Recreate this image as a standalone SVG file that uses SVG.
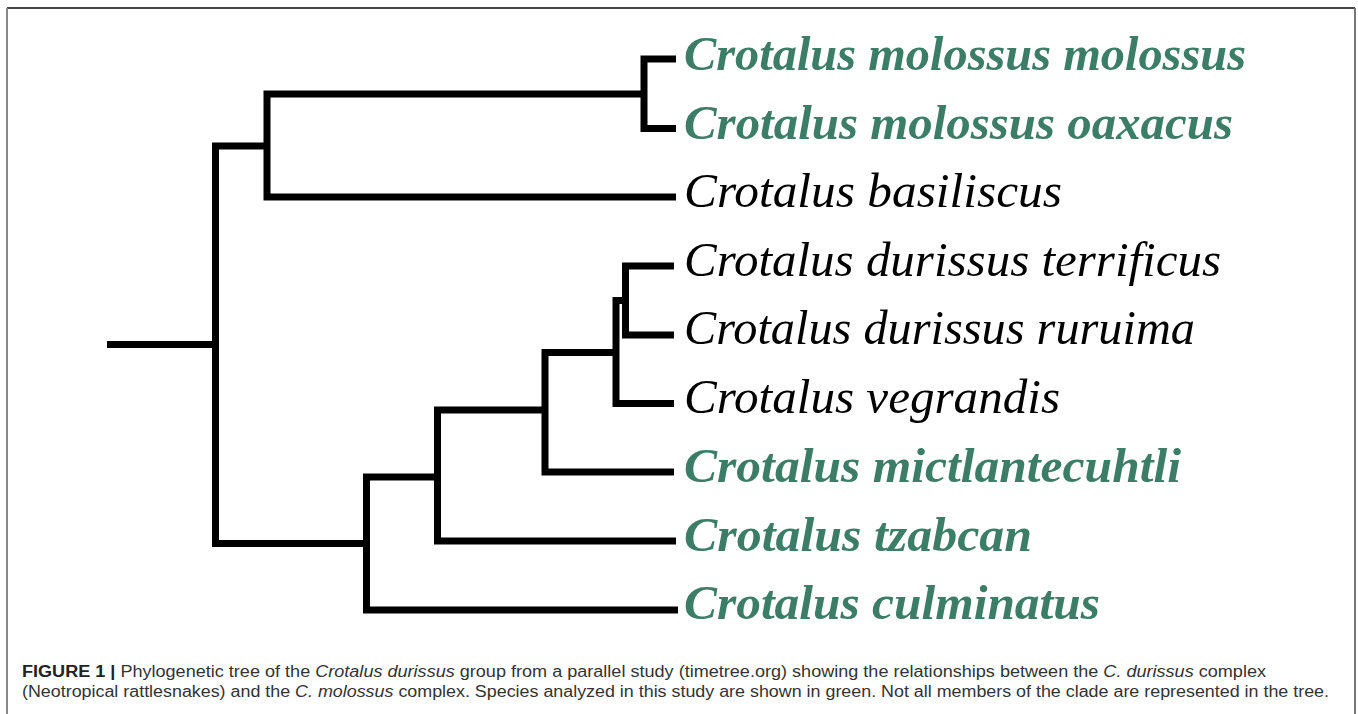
<svg xmlns="http://www.w3.org/2000/svg" width="1358" height="714" viewBox="0 0 1358 714">
  <style>
    .br { fill: none; stroke: #000; stroke-width: 7; stroke-linejoin: miter; stroke-linecap: butt; }
    .sp { font-family: "Liberation Serif", "Times New Roman", serif; font-size: 48.5px; font-style: italic; }
    .g { fill: #3c7d67; font-weight: bold; }
    .k { fill: #000; font-weight: normal; }
    .cap { font-family: "Liberation Sans", Arial, sans-serif; font-size: 16px; fill: #333; }
  </style>
  <rect x="0" y="0" width="1358" height="714" fill="#fff"/>
  <g id="frame">
    <line x1="7" y1="8" x2="1355" y2="8" stroke="#444" stroke-width="2"/>
    <line x1="7" y1="8" x2="7" y2="714" stroke="#888" stroke-width="2"/>
    <line x1="1355" y1="8" x2="1355" y2="714" stroke="#777" stroke-width="2"/>
  </g>
  <g id="connectors">
    <path class="br" d="M107,344.5 H215.5"/>
    <path class="br" d="M267,146 H215.5 V543.5 H366.5"/>
    <path class="br" d="M644,94 H267 V197 H676"/>
    <path class="br" d="M676,59 H644 V128.5 H676"/>
    <path class="br" d="M674,266 H625.5 V335 H674"/>
    <path class="br" d="M625.5,300.5 H616 V403.5 H674"/>
    <path class="br" d="M616,352.5 H545 V472 H674"/>
    <path class="br" d="M545,410 H437.5 V541 H676"/>
    <path class="br" d="M437.5,477 H366.5 V610 H678"/>
  </g>
  <g id="leaf-molossus-molossus"><text class="sp g" x="684" y="69.5" textLength="562" lengthAdjust="spacingAndGlyphs">Crotalus molossus molossus</text></g>
  <g id="leaf-molossus-oaxacus"><text class="sp g" x="684" y="138.5" textLength="549" lengthAdjust="spacingAndGlyphs">Crotalus molossus oaxacus</text></g>
  <g id="leaf-basiliscus"><text class="sp k" x="684" y="206.5" textLength="378" lengthAdjust="spacingAndGlyphs">Crotalus basiliscus</text></g>
  <g id="leaf-durissus-terrificus"><text class="sp k" x="684" y="275.5" textLength="537" lengthAdjust="spacingAndGlyphs">Crotalus durissus terrificus</text></g>
  <g id="leaf-durissus-ruruima"><text class="sp k" x="684" y="344" textLength="511" lengthAdjust="spacingAndGlyphs">Crotalus durissus ruruima</text></g>
  <g id="leaf-vegrandis"><text class="sp k" x="684" y="413" textLength="376" lengthAdjust="spacingAndGlyphs">Crotalus vegrandis</text></g>
  <g id="leaf-mictlantecuhtli"><text class="sp g" x="684" y="481.5" textLength="497" lengthAdjust="spacingAndGlyphs">Crotalus mictlantecuhtli</text></g>
  <g id="leaf-tzabcan"><text class="sp g" x="684" y="550.5" textLength="348" lengthAdjust="spacingAndGlyphs">Crotalus tzabcan</text></g>
  <g id="leaf-culminatus"><text class="sp g" x="684" y="619" textLength="416" lengthAdjust="spacingAndGlyphs">Crotalus culminatus</text></g>
  <g id="caption">
    <text class="cap" x="22" y="677" textLength="1244" lengthAdjust="spacingAndGlyphs"><tspan font-weight="bold" fill="#222">FIGURE 1 |</tspan> Phylogenetic tree of the <tspan font-style="italic">Crotalus durissus</tspan> group from a parallel study (timetree.org) showing the relationships between the <tspan font-style="italic">C. durissus</tspan> complex</text>
    <text class="cap" x="22" y="697" textLength="1307" lengthAdjust="spacingAndGlyphs">(Neotropical rattlesnakes) and the <tspan font-style="italic">C. molossus</tspan> complex. Species analyzed in this study are shown in green. Not all members of the clade are represented in the tree.</text>
  </g>
</svg>
